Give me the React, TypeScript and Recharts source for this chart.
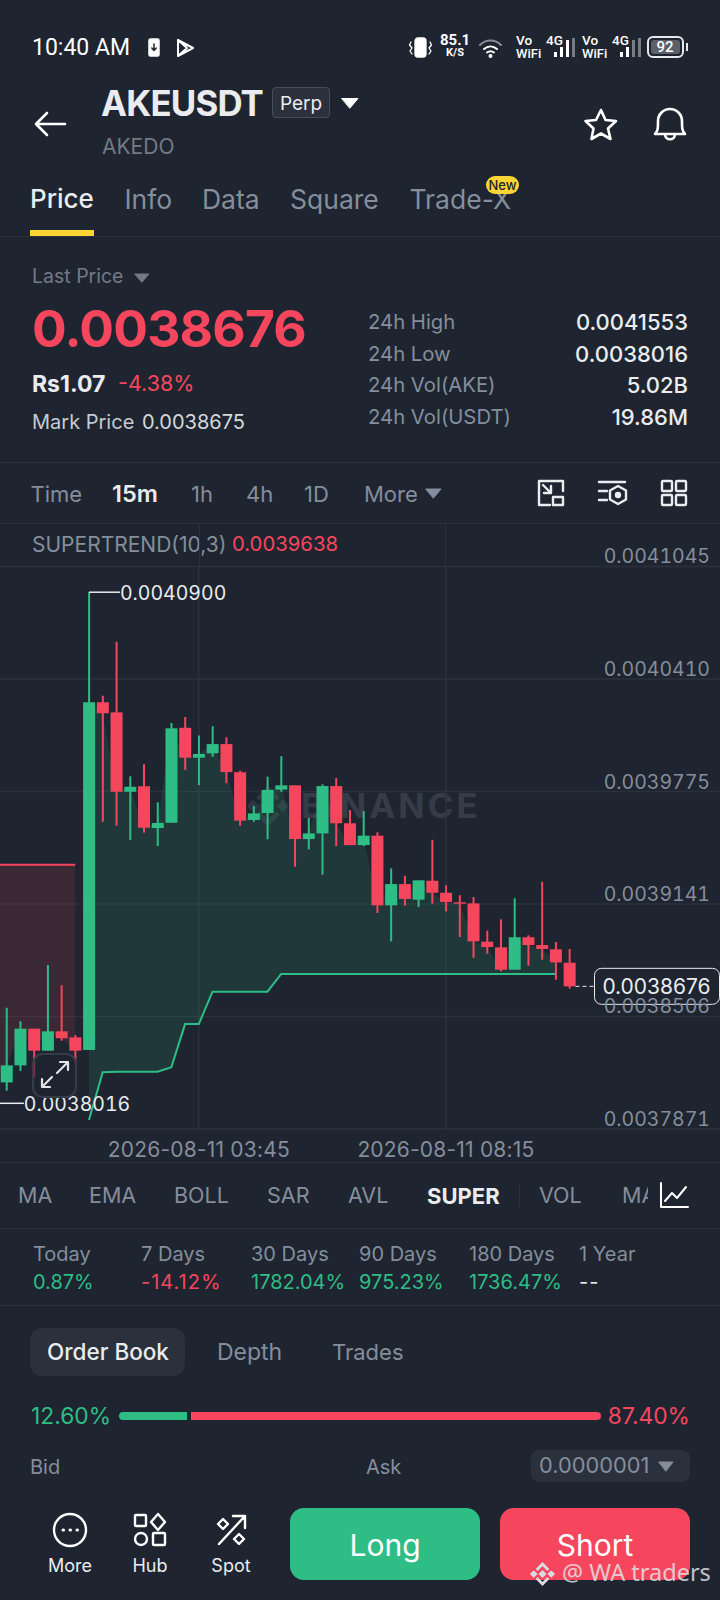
import React from 'react';
import { ComposedChart, Bar, Area, Line, XAxis, YAxis, CartesianGrid, ReferenceDot } from 'recharts';

// prices are in exchange ticks, 1 tick = 0.0000001
const TICK = 1e-7;
const DATE = '2026-08-11';

const times = [
  '00:00', '00:15', '00:30', '00:45', '01:00', '01:15', '01:30', '01:45', '02:00', '02:15', '02:30', '02:45',
  '03:00', '03:15', '03:30', '03:45', '04:00', '04:15', '04:30', '04:45', '05:00', '05:15', '05:30', '05:45',
  '06:00', '06:15', '06:30', '06:45', '07:00', '07:15', '07:30', '07:45', '08:00', '08:15', '08:30', '08:45',
  '09:00', '09:15', '09:30', '09:45', '10:00', '10:15', '10:30', '10:45', '11:00', '11:15', '11:30', '11:45',
  '12:00', '12:15', '12:30', '12:45', '13:00', '13:15',
];
const opens = [
  38120, 38134, 38230, 38437, 38313, 38422, 38388, 38317, 40279, 40222, 39774, 39805,
  39569, 39599, 40135, 39966, 39991, 40043, 39884, 39615, 39654, 39786, 39810, 39507,
  39539, 39806, 39596, 39473, 39526, 39133, 39253, 39165, 39272, 39204, 39150, 39144,
  38928, 38896, 38770, 38953, 38909, 38885, 38809,
];
const highs = [
  38180, 38555, 38479, 38437, 38796, 38682, 38401, 40900, 40316, 40621, 39861, 39929,
  39714, 40162, 40196, 40092, 40143, 40081, 39893, 39694, 39859, 39974, 39810, 39626,
  39816, 39852, 39671, 39665, 39545, 39342, 39300, 39274, 39503, 39246, 39190, 39180,
  38990, 39054, 39173, 38964, 39266, 38926, 38887,
];
const lows = [
  38016, 38087, 38198, 38163, 38313, 38369, 38242, 38317, 39605, 39582, 39502, 39543,
  39468, 39599, 39897, 39812, 39972, 39822, 39582, 39605, 39506, 39774, 39351, 39449,
  39306, 39468, 39473, 39468, 39090, 38930, 39131, 39124, 39142, 39099, 38954, 38836,
  38860, 38761, 38770, 38792, 38826, 38713, 38663,
];
const closes = [
  38134, 38230, 38437, 38313, 38422, 38383, 38313, 40279, 40217, 39774, 39802, 39571,
  39598, 40132, 39966, 39987, 40043, 39885, 39611, 39652, 39784, 39810, 39507, 39539,
  39806, 39596, 39473, 39526, 39133, 39253, 39169, 39274, 39204, 39152, 39142, 38930,
  38898, 38770, 38953, 38909, 38887, 38811, 38676,
];
// supertrend: upper band while bearish, lower band while bullish
const upperBand = [39362, 39362, 39362, 39362, 39362, 39362, 39362];
const lowerBand = [
  null, null, null, null, null, null, null,
  37922, 38191, 38194, 38194, 38194, 38194, 38219, 38463, 38463, 38646, 38646, 38646, 38646, 38646,
  38746, 38746, 38746, 38746, 38746, 38746, 38746, 38746, 38746, 38746, 38746, 38746, 38746, 38746,
  38746, 38746, 38746, 38746, 38746, 38746, 38746,
];
const yTicks = [41045, 40410, 39775, 39141, 38506, 37871];
const xTicks = ['03:45', '08:15'];
const HIGH_PRICE = 40900;
const LOW_PRICE = 38016;
const LAST_PRICE = 38676;

const chartData = times.map((time, i) => ({
  time,
  open: opens[i],
  high: highs[i],
  low: lows[i],
  close: closes[i],
  upper: upperBand[i] ?? null,
  lower: lowerBand[i] ?? null,
}));

const stats = [
  { label: '24h High', value: '0.0041553' },
  { label: '24h Low', value: '0.0038016' },
  { label: '24h Vol(AKE)', value: '5.02B' },
  { label: '24h Vol(USDT)', value: '19.86M' },
];
const periods = [
  { label: 'Today', value: '0.87%', x: 33 },
  { label: '7 Days', value: '-14.12%', x: 141 },
  { label: '30 Days', value: '1782.04%', x: 251 },
  { label: '90 Days', value: '975.23%', x: 359 },
  { label: '180 Days', value: '1736.47%', x: 469 },
  { label: '1 Year', value: '--', x: 579 },
];

const GREEN = '#2EBD85';
const RED = '#F6465D';
const GRAY = '#848E9C';
const WHITE = '#EAECEF';
const BG = '#1E2530';
const LINE = '#2B313C';
const FONT = 'Inter, sans-serif';
const ROBOTO = 'Roboto, sans-serif';
const TNUM = { fontVariantNumeric: 'tabular-nums' };

function fmt(v: number) {
  return (v * TICK).toFixed(7);
}

function T({ x, y, size = 20, color = GRAY, weight = 400, anchor = 'left', font = FONT, children, spacing = 0 }: any) {
  const shift = anchor === 'right' ? '-100%' : anchor === 'center' ? '-50%' : '0';
  return (
    <div
      style={{
        position: 'absolute', left: x, top: y, transform: `translate(${shift}, -50%)`, fontSize: size, color,
        fontWeight: weight, fontFamily: font, whiteSpace: 'nowrap', lineHeight: 1, letterSpacing: spacing,
      }}
    >
      {children}
    </div>
  );
}

function Box({ x, y, w, h, fill, r = 0, border }: any) {
  return (
    <div
      style={{
        position: 'absolute', left: x, top: y, width: w, height: h, background: fill, borderRadius: r,
        border, boxSizing: 'border-box',
      }}
    />
  );
}

function Icon({ x, y, w, h, children, stroke = WHITE, sw = 2 }: any) {
  return (
    <svg
      style={{ position: 'absolute', left: x, top: y }}
      width={w}
      height={h}
      viewBox={`0 0 ${w} ${h}`}
      fill="none"
      stroke={stroke}
      strokeWidth={sw}
      strokeLinejoin="round"
      strokeLinecap="round"
    >
      {children}
    </svg>
  );
}

function Logo({ x, y, w, h, color }: any) {
  return (
    <svg style={{ position: 'absolute', left: x, top: y }} width={w} height={h} viewBox="0 0 40 48" fill="none">
      <g stroke={color} strokeWidth={5}>
        <path d="M10 17 20 7 30 17M10 31 20 41 30 31" />
        <path d="M5 21 8 24 5 27 2 24ZM35 21 38 24 35 27 32 24Z" fill={color} />
      </g>
      <path d="M20 17 27 24 20 31 13 24Z" fill={color} />
    </svg>
  );
}

function Candle(props: any) {
  const { x, y, width, height, payload } = props;
  if (payload.open == null) return null;
  const { open, high, low, close } = payload;
  const color = close >= open ? GREEN : RED;
  const perTick = height / (high - low);
  const top = y + (high - Math.max(open, close)) * perTick;
  const bodyH = Math.max(Math.abs(open - close) * perTick, 1);
  const cx = x + width / 2;
  return (
    <g>
      <line x1={cx} x2={cx} y1={y} y2={y + height} stroke={color} strokeWidth={2} />
      <rect x={x} y={top} width={width} height={bodyH} fill={color} />
    </g>
  );
}

function ExtremeMark({ cx, cy, value }: any) {
  return (
    <g>
      <line x1={cx} x2={cx + 31} y1={cy} y2={cy} stroke={WHITE} strokeWidth={1.5} />
      <text x={cx + 31} y={cy + 8} fontSize={19.5} fill={WHITE} fontFamily={FONT} style={TNUM}>
        {value}
      </text>
    </g>
  );
}

function LastPriceMark({ cx, cy, value }: any) {
  return (
    <g>
      <line x1={cx + 6} x2={cx + 25} y1={cy} y2={cy} stroke={WHITE} strokeWidth={1} strokeDasharray="4 3" />
      <rect x={cx + 25} y={cy - 18} width={125} height={36} rx={7} fill={BG} stroke={WHITE} strokeWidth={1} />
      <text x={cx + 87} y={cy + 7.5} fontSize={21} fill={WHITE} fontFamily={FONT} textAnchor="middle">
        {value}
      </text>
    </g>
  );
}

function PriceTick({ y, payload }: any) {
  return (
    <text x={724} y={y - 3} fontSize={19.5} fill={GRAY} fontFamily={FONT} textAnchor="end" style={TNUM}>
      {fmt(payload.value)}
    </text>
  );
}

function KlineChart() {
  return (
    <div style={{ position: 'absolute', left: -13.57, top: 520 }}>
      <ComposedChart
        width={742.4}
        height={660}
        data={chartData}
        margin={{ top: 46.5, right: 0, bottom: 0, left: 0 }}
        barSize={12}
      >
        <CartesianGrid stroke={LINE} strokeWidth={1.5} />
        <XAxis
          dataKey="time"
          ticks={xTicks}
          interval={0}
          height={51}
          axisLine={false}
          tickLine={false}
          tick={{ fill: GRAY, fontSize: 21, fontFamily: FONT, dy: 5, letterSpacing: 0.2 }}
          tickFormatter={(t: string) => `${DATE} ${t}`}
        />
        <YAxis
          orientation="right"
          width={1}
          domain={[37871, 41045]}
          ticks={yTicks}
          interval={0}
          allowDataOverflow
          axisLine={false}
          tickLine={false}
          tick={PriceTick}
        />
        <Bar dataKey={(d: any) => (d.open == null ? null : [d.low, d.high])} shape={Candle} isAnimationActive={false} />
        <Area
          dataKey={(d: any) => (d.upper == null ? null : [d.close, d.upper])}
          stroke="none"
          fill={RED}
          fillOpacity={0.13}
          isAnimationActive={false}
        />
        <Area
          dataKey={(d: any) => (d.lower == null ? null : [d.lower, d.close])}
          stroke="none"
          fill={GREEN}
          fillOpacity={0.13}
          isAnimationActive={false}
        />
        <Line dataKey="upper" stroke={RED} strokeWidth={2} dot={false} isAnimationActive={false} />
        <Line dataKey="lower" stroke={GREEN} strokeWidth={2} dot={false} isAnimationActive={false} />
        <ReferenceDot x="01:45" y={HIGH_PRICE} shape={(p: any) => <ExtremeMark {...p} value={fmt(HIGH_PRICE)} />} />
        <ReferenceDot x="00:00" y={LOW_PRICE} shape={(p: any) => <ExtremeMark {...p} value={fmt(LOW_PRICE)} />} />
        <ReferenceDot x="10:30" y={LAST_PRICE} shape={(p: any) => <LastPriceMark {...p} value={fmt(LAST_PRICE)} />} />
      </ComposedChart>
    </div>
  );
}

function StatusBar() {
  return (
    <>
      <T x={32} y={47} size={23} color="#fff" font={ROBOTO}>10:40 AM</T>
      <Icon x={148} y={38} w={12} h={19} sw={1.5} stroke="#fff">
        <rect x={1} y={1} width={10} height={17} fill="#fff" rx={1.5} />
        <path d="M6 6v6M3.800 10 6 12.400 8.200 10" stroke={BG} />
      </Icon>
      <Icon x={176} y={38} w={19} h={20} stroke="#fff">
        <path d="M2 2 17 10 2 18ZM2 2 11 10 2 18" />
      </Icon>
      <Icon x={408} y={37} w={25} h={21} stroke="#fff" sw={1.3}>
        <rect x={7} y={1} width={11} height={19} rx={3} fill="#fff" />
        <path d="M3 5 1.500 8 4 11 2 14 4 17M22 5 23.500 8 21 11 23 14 21 17" />
      </Icon>
      <T x={455} y={40} size={15} color="#fff" weight={700} anchor="center" font={ROBOTO}>85.1</T>
      <T x={455} y={52} size={11} color="#fff" weight={700} anchor="center" font={ROBOTO}>K/S</T>
      <Icon x={478} y={37} w={25} h={21} stroke="#fff" sw={2}>
        <path d="M2 8C8 2 17 2 23 8" stroke="#8a8f98" />
        <path d="M6 12c4-3.500 9-3.500 13 0M9 15.500c2-1.500 5-1.500 7 0" />
        <circle cx={12.500} cy={19} r={1} fill="#fff" />
      </Icon>
      {[516, 582].map((x) => (
        <React.Fragment key={x}>
          <T x={x} y={41} size={13.5} color="#fff" weight={500} font={ROBOTO}>Vo</T>
          <T x={x} y={53} size={13} color="#fff" weight={500} font={ROBOTO}>WiFi</T>
          <T x={x + 30} y={41} size={13.5} color="#fff" weight={500} font={ROBOTO}>4G</T>
          <Box x={x + 38} y={52} w={3} h={5} fill="#fff" />
          <Box x={x + 44} y={47} w={3} h={10} fill="#fff" />
          <Box x={x + 50} y={40} w={3} h={17} fill={x === 516 ? '#fff' : '#777c85'} />
          <Box x={x + 56} y={38} w={3} h={19} fill="#777c85" />
        </React.Fragment>
      ))}
      <Box x={647} y={36} w={37} h={22} r={6} border="2px solid #e6e8ea" />
      <Box x={651} y={40} w={29} h={14} r={3} fill="#5b606a" />
      <Box x={686} y={43} w={2} h={8} fill="#e6e8ea" />
      <T x={665} y={47} size={15} color="#fff" weight={500} anchor="center" font={ROBOTO}>92</T>
    </>
  );
}

function Header() {
  return (
    <>
      <Icon x={33} y={110} w={34} h={28} sw={2.6} stroke="#fff">
        <path d="M32 14H3M14 3 3 14l11 11" />
      </Icon>
      <T x={101} y={103} size={34.8} color={WHITE} weight={700} spacing={-0.8}>AKEUSDT</T>
      <Box x={272} y={87} w={58} h={31} r={4} fill="#2B313C" border="1px solid #474D57" />
      <T x={301} y={103} size={19} color={WHITE} anchor="center">Perp</T>
      <Icon x={340} y={97} w={20} h={13} stroke="#fff" sw={1}>
        <path d="M2 1.500h16L10 11Z" fill="#fff" />
      </Icon>
      <T x={102} y={146} size={21} color="#737A86">AKEDO</T>
      <Icon x={583} y={107} w={36} h={34} sw={2.6} stroke="#fff">
        <path d="M18 3l4.500 10 10.500 1-8 7.500 2.500 10.500-9.500-5.500-9.500 5.500L10.500 21.500l-8-7.500 10.500-1Z" />
      </Icon>
      <Icon x={652} y={105} w={36} h={38} sw={2.6} stroke="#fff">
        <path d="M3 29c3-3 3-6 3-13a12 12 0 0 1 24 0c0 7 0 10 3 13ZM13 29c0 7 10 7 10 0" />
      </Icon>
      <T x={30} y={199} size={26} color={WHITE} weight={500}>Price</T>
      <T x={124.5} y={199} size={26.5}>Info</T>
      <T x={202} y={199} size={26.5}>Data</T>
      <T x={290} y={199} size={26.5}>Square</T>
      <T x={409.5} y={199} size={26.5}>Trade-X</T>
      <Box x={486} y={176} w={33} h={18} r={9} fill="#FCD535" />
      <T x={502.500} y={185} size={13} color="#1E2329" weight={500} anchor="center">New</T>
      <Box x={30} y={230} w={64} h={6} fill="#FCD535" />
      <Box x={0} y={236} w={720} h={1} fill={LINE} />
    </>
  );
}

function PriceBlock() {
  return (
    <>
      <T x={32} y={277} size={19.5} color="#737A86">Last Price</T>
      <Icon x={134} y={273} w={16} h={10} stroke="#737A86" sw={1}>
        <path d="M1 1h14L8 9Z" fill="#737A86" />
      </Icon>
      <T x={32} y={329} size={51.5} color={RED} weight={700} spacing={-0.8}>0.0038676</T>
      <T x={32} y={384} size={23} color={WHITE} weight={700}>Rs1.07</T>
      <T x={118} y={384} size={21.5} color={RED}>-4.38%</T>
      <T x={32} y={422} size={20} color="#C7CAD0">Mark Price</T>
      <T x={142} y={422} size={20} color="#D5D8DC">0.0038675</T>
      {stats.map((s, i) => (
        <React.Fragment key={s.label}>
          <T x={368} y={322 + i * 31.6} size={20.3}>{s.label}</T>
          <T x={688} y={322 + i * 31.6} size={22} color={WHITE} weight={500} anchor="right">{s.value}</T>
        </React.Fragment>
      ))}
      <Box x={0} y={462} w={720} h={1} fill={LINE} />
    </>
  );
}

function Toolbar() {
  return (
    <>
      <T x={30.5} y={494} size={22}>Time</T>
      <T x={112} y={494} size={23.5} color={WHITE} weight={600}>15m</T>
      <T x={191} y={494} size={22}>1h</T>
      <T x={246} y={494} size={22}>4h</T>
      <T x={304} y={494} size={22}>1D</T>
      <T x={364} y={494} size={22}>More</T>
      <Icon x={425} y={488} w={17} h={11} stroke={GRAY} sw={1}>
        <path d="M1 1h15L8.500 10Z" fill={GRAY} />
      </Icon>
      <Icon x={537} y={479} w={28} h={28} sw={2.4}>
        <path d="M13 26H2V2h24v10" />
        <rect x={16} y={18} width={10} height={8} />
        <path d="M6 6l8 8M14 7v7H7" />
      </Icon>
      <Icon x={597} y={479} w={31} h={28} sw={2.4}>
        <path d="M2 3h26M2 12h8M2 21h8" />
        <path d="M21 7l8 4.500v9L21 25l-8-4.500v-9Z" />
        <circle cx={21} cy={16} r={2} fill={WHITE} />
      </Icon>
      <Icon x={660} y={479} w={28} h={28} sw={2.4}>
        <rect x={2} y={2} width={10} height={10} rx={1} />
        <rect x={16} y={2} width={10} height={10} rx={1} />
        <rect x={2} y={16} width={10} height={10} rx={1} />
        <rect x={16} y={16} width={10} height={10} rx={1} />
      </Icon>
      <Box x={0} y={523} w={720} h={1} fill={LINE} />
      <T x={32} y={544} size={21}>SUPERTREND(10,3)</T>
      <T x={232} y={544} size={20.3} color={RED}>0.0039638</T>
      {/* the two time gridlines run on up through the indicator caption */}
      <Box x={198.500} y={524} w={1.5} h={43} fill={LINE} />
      <Box x={444.800} y={524} w={1.5} h={43} fill={LINE} />
    </>
  );
}

function Watermark() {
  return (
    <>
      <Logo x={248} y={782} w={40} h={48} color="#303641" />
      <T x={301} y={806} size={34.5} color="#363C47" weight={700} spacing={3.2}>BINANCE</T>
    </>
  );
}

function ExpandButton() {
  return (
    <>
      <Box x={32} y={1053} w={45} h={45} r={11} fill="rgba(30,37,48,0.55)" border="2px solid #363C47" />
      <Icon x={38} y={1059} w={33} h={33} stroke="#E2E4E8" sw={2.2}>
        <path d="M4 28 14 18M4 20v8h8M30 3 19 14M22 3h8v8" />
      </Icon>
    </>
  );
}

function LowerPanel() {
  return (
    <>
      <Box x={0} y={1162} w={720} h={1} fill={LINE} />
      {[
        ['MA', 18], ['EMA', 89], ['BOLL', 174], ['SAR', 267], ['AVL', 348], ['VOL', 539],
      ].map(([t, x]) => (
        <T key={t} x={x} y={1196} size={21.5}>{t}</T>
      ))}
      <T x={427} y={1196} size={22} color={WHITE} weight={700}>SUPER</T>
      <Box x={519} y={1183} w={1} h={24} fill={LINE} />
      <T x={622} y={1196} size={21.5}>MA</T>
      <Box x={648} y={1180} w={44} h={32} fill={BG} />
      <Icon x={659} y={1181} w={30} h={28} stroke="#fff" sw={2}>
        <path d="M2 2v24h27M6 20l7-8 5 5 9-11" />
      </Icon>
      <Box x={0} y={1228} w={720} h={1} fill={LINE} />
      {periods.map((p) => (
        <React.Fragment key={p.label}>
          <T x={p.x} y={1254} size={20}>{p.label}</T>
          <T
            x={p.x}
            y={1282}
            size={20}
            color={p.value === '--' ? WHITE : p.value.startsWith('-') ? RED : GREEN}
            spacing={p.value.startsWith('-') ? 1 : 0}
          >
            {p.value}
          </T>
        </React.Fragment>
      ))}
      <Box x={0} y={1305} w={720} h={1} fill={LINE} />
      <Box x={30} y={1328} w={155} h={48} r={12} fill="#2B313C" />
      <T x={108} y={1352} size={22.5} color={WHITE} weight={500} anchor="center">Order Book</T>
      <T x={217} y={1352} size={23}>Depth</T>
      <T x={332} y={1352} size={22}>Trades</T>
      <T x={31} y={1416} size={22.8} color={GREEN}>12.60%</T>
      <Box x={119} y={1412} w={68} h={8} r="4px 0 0 4px" fill={GREEN} />
      <Box x={191} y={1412} w={410} h={8} r="0 4px 4px 0" fill={RED} />
      <T x={690} y={1416} size={22.8} color={RED} anchor="right">87.40%</T>
      <T x={30} y={1467} size={20}>Bid</T>
      <T x={366} y={1467} size={20}>Ask</T>
      <Box x={531} y={1450} w={159} h={32} r={8} fill="#2B313C" />
      <T x={539} y={1466} size={21.8}>0.0000001</T>
      <Icon x={658} y={1461} w={16} h={11} stroke={GRAY} sw={1}>
        <path d="M1 1h14L8 10Z" fill={GRAY} />
      </Icon>
    </>
  );
}

function BottomBar() {
  return (
    <>
      <Icon x={52} y={1512} w={36} h={36} sw={2.4} stroke="#fff">
        <circle cx={18} cy={18} r={16} />
        <path d="M11 18h.5M18 18h.5M25 18h.5" strokeWidth={3} />
      </Icon>
      <T x={70} y={1566} size={18} color={WHITE} anchor="center">More</T>
      <Icon x={133} y={1512} w={35} h={35} sw={2.4} stroke="#fff">
        <rect x={2} y={3} width={11} height={11} rx={1} />
        <path d="M25 2l7 8-7 8-7-8Z" />
        <circle cx={8} cy={27} r={6} />
        <rect x={20} y={21} width={12} height={12} rx={1} />
      </Icon>
      <T x={150} y={1566} size={18} color={WHITE} anchor="center">Hub</T>
      <Icon x={215} y={1513} w={33} h={35} sw={2.4} stroke="#fff">
        <path d="M4 31 30 3M18 3h12v12" />
        <path d="M8 6l5 5-5 5-5-5ZM24 21l5 5-5 5-5-5Z" />
      </Icon>
      <T x={231} y={1566} size={18} color={WHITE} anchor="center">Spot</T>
      <Box x={290} y={1508} w={190} h={72} r={14} fill={GREEN} />
      <T x={385} y={1545} size={30} color="#fff" anchor="center">Long</T>
      <Box x={500} y={1508} w={190} h={72} r={14} fill={RED} />
      <T x={595} y={1545} size={30} color="#fff" anchor="center">Short</T>
      <Logo x={529} y={1560} w={27} h={28} color="#d9dbe0" />
      <T x={562} y={1573} size={23.5} color="rgba(228,230,235,0.82)" font="'Noto Sans', sans-serif">@ WA traders</T>
    </>
  );
}

export default function App() {
  return (
    <div
      style={{ position: 'absolute', left: 0, top: 0, width: 720, height: 1600, background: BG, overflow: 'hidden' }}
    >
      <StatusBar />
      <Header />
      <PriceBlock />
      <Toolbar />
      <Watermark />
      <KlineChart />
      <ExpandButton />
      <LowerPanel />
      <BottomBar />
    </div>
  );
}
